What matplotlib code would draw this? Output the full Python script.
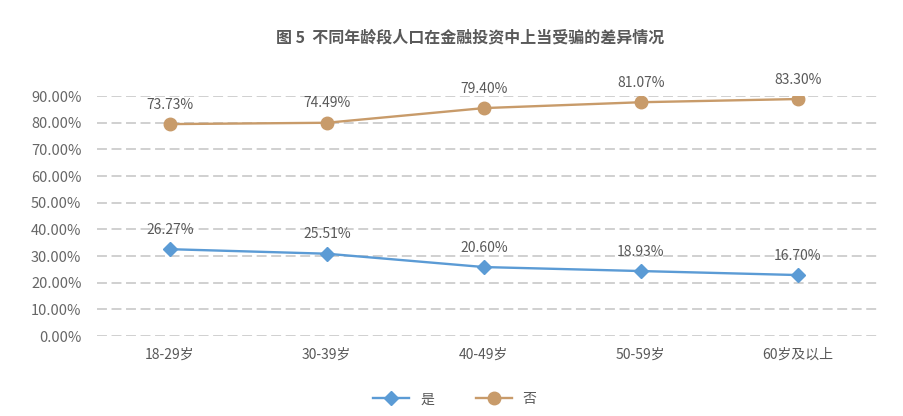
import matplotlib
matplotlib.use("Agg")
import matplotlib.pyplot as plt
from matplotlib.ticker import PercentFormatter

plt.rcParams['font.family'] = ['Noto Sans CJK SC', 'DejaVu Sans']

categories = ["18-29岁", "30-39岁", "40-49岁", "50-59岁", "60岁及以上"]
# positions des points
shi_values = [32.6, 30.9, 25.9, 24.4, 22.9]
fou_values = [79.5, 80.0, 85.5, 87.7, 88.9]
# étiquettes affichées
shi_labels = ["26.27%", "25.51%", "20.60%", "18.93%", "16.70%"]
fou_labels = ["73.73%", "74.49%", "79.40%", "81.07%", "83.30%"]

blue = "#5B9BD5"
tan = "#C89B6A"
grey = "#595959"

fig = plt.figure(figsize=(9.04, 4.16), dpi=100)
ax = fig.add_axes([0.107, 0.192, 0.866, 0.577])

x = range(len(categories))
ax.plot(x, shi_values, color=blue, lw=1.7, marker="D", ms=7, label="是")
ax.plot(x, fou_values, color=tan, lw=1.7, marker="o", ms=9, label="否")

for i in x:
    ax.annotate(shi_labels[i], (i, shi_values[i]), xytext=(0, 9), textcoords="offset points",
                ha="center", va="bottom", fontsize=10, color=grey, annotation_clip=False)
    ax.annotate(fou_labels[i], (i, fou_values[i]), xytext=(0, 9), textcoords="offset points",
                ha="center", va="bottom", fontsize=10, color=grey, annotation_clip=False)

ax.set_xlim(-0.465, 4.52)
ax.set_ylim(0, 90)
ax.set_yticks(range(0, 91, 10))
ax.yaxis.set_major_formatter(PercentFormatter(decimals=2))
ax.set_xticks(list(x))
ax.set_xticklabels(categories)
ax.tick_params(axis="both", length=0, colors=grey, labelsize=10)
ax.tick_params(axis="y", pad=11, labelsize=10.5, colors="#666666")
ax.tick_params(axis="x", pad=8)
ax.grid(axis="y", color="#C4C4C4", linestyle=(0, (6.5, 3)), lw=1.1)
ax.set_axisbelow(True)
for s in ax.spines.values():
    s.set_visible(False)

fig.text(0.52, 0.91, "图 5  不同年龄段人口在金融投资中上当受骗的差异情况", ha="center", va="center",
         fontsize=11.5, fontweight="bold", color=grey)
fig.legend(loc="center", bbox_to_anchor=(0.503, 0.04), ncol=2, frameon=False,
           fontsize=10, labelcolor=grey, handlelength=2.6, columnspacing=3)

fig.savefig("out.png", dpi=100)
